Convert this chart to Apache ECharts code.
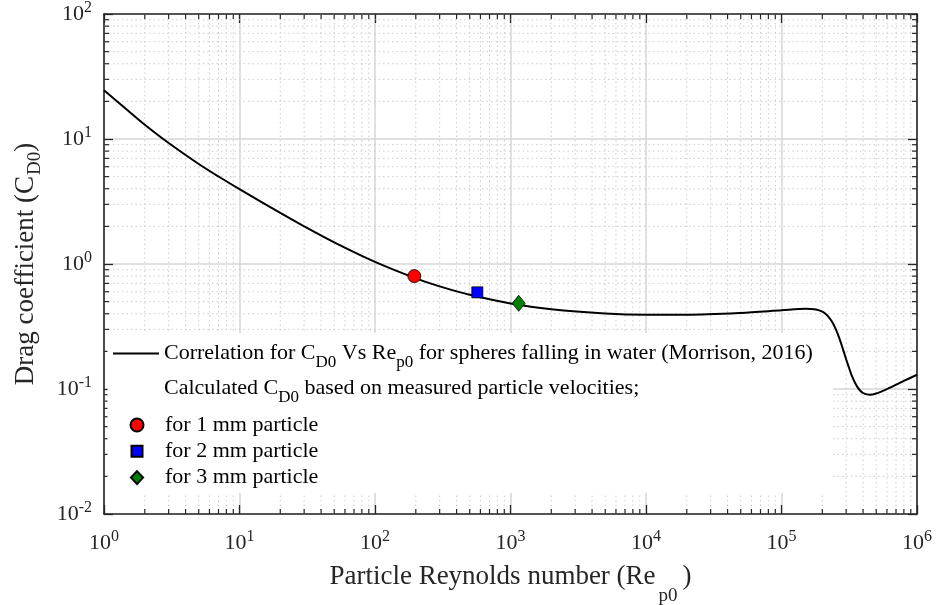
<!DOCTYPE html>
<html>
<head>
<meta charset="utf-8">
<script src="https://cdn.jsdelivr.net/npm/echarts@6/dist/echarts.min.js"></script>
<style>
html, body { margin: 0; padding: 0; background: #ffffff; }
#chart { width: 938px; height: 605px; }
</style>
</head>
<body>
<div id="chart"></div>
<script>
// ---------------- data ----------------
// Correlation curve (Morrison, 2016): particle Reynolds number vs drag coefficient
const reCurve = [1, 1.5, 2, 3, 5, 7, 10, 20, 30, 50, 100, 200, 300, 500, 1000, 2000, 5000,
  10000, 20000, 50000, 100000, 150000, 165000, 180000, 200000, 210000, 220000, 235000, 250000,
  265000, 280000, 300000, 315000, 330000, 360000, 380000, 400000, 450000, 500000, 600000, 800000, 1000000];
const cdCurve = [24.5, 16.9, 13.0, 9.28, 6.31, 5.01, 3.97, 2.56, 2.0, 1.49, 1.04, 0.768, 0.662, 0.567, 0.484, 0.435, 0.402,
  0.393, 0.393, 0.406, 0.426, 0.438, 0.437, 0.432, 0.416, 0.402, 0.383, 0.348, 0.305,
  0.261, 0.219, 0.173, 0.148, 0.128, 0.105, 0.0972, 0.0927, 0.0899, 0.092, 0.0999, 0.116, 0.13];

// Calculated C_D0 from measured particle velocities
const reP1mm = [195];  const cdP1mm = [0.80];
const reP2mm = [569];  const cdP2mm = [0.593];
const reP3mm = [1149]; const cdP3mm = [0.485];

// Tick labels (powers of ten)
const xTickExps = [0, 1, 2, 3, 4, 5, 6];
const yTickExps = [-2, -1, 0, 1, 2];

// Series / legend names
const N_CORR = 'Correlation for CD0 Vs Rep0 for spheres falling in water (Morrison, 2016)';
const N_CALC = 'Calculated CD0 based on measured particle velocities;';
const N_P1 = 'for 1 mm particle';
const N_P2 = 'for 2 mm particle';
const N_P3 = 'for 3 mm particle';

// ---------------- helpers ----------------
const FONT = "'Liberation Serif', 'Times New Roman', serif";
const TXT = '#262626';

const xMinorTicks = [];
for (let e = 0; e < 6; e++) for (let m = 2; m <= 9; m++) xMinorTicks.push(m * Math.pow(10, e));
const yMinorTicks = [];
for (let e = -2; e < 2; e++) for (let m = 2; m <= 9; m++) yMinorTicks.push(+(m * Math.pow(10, e)).toPrecision(3));

function zip(a, b) { return a.map((v, i) => [v, b[i]]); }
function powLabel(exp) { return '{b|10}{s|' + exp + '}'; }

const tickRich = {
  b: { fontFamily: FONT, fontSize: 22, lineHeight: 22, color: TXT },
  s: { fontFamily: FONT, fontSize: 16, lineHeight: 16, color: TXT, padding: [0, 0, 13, 0] }
};
const legendRich = {
  t: { fontFamily: FONT, fontSize: 22, lineHeight: 22, color: '#000' },
  sub: { fontFamily: FONT, fontSize: 17, lineHeight: 17, color: '#000', padding: [18, 0, 0, 0] }
};
const legendText = {};
legendText[N_CORR] = '{t|Correlation for C}{sub|D0}{t| Vs Re}{sub|p0}{t| for spheres falling in water (Morrison, 2016)}';
legendText[N_CALC] = '{t|Calculated C}{sub|D0}{t| based on measured particle velocities;}';
legendText[N_P1] = '{t|' + N_P1 + '}';
legendText[N_P2] = '{t|' + N_P2 + '}';
legendText[N_P3] = '{t|' + N_P3 + '}';

const MINOR_GRID = { stroke: '#cdcdcd', lineWidth: 1, lineDash: [1.5, 3] };
const TICK = { stroke: TXT, lineWidth: 1.2 };

function renderXMinor(params, api) {
  const cs = params.coordSys;
  const x = api.coord([api.value(0), 1])[0];
  const top = cs.y, bot = cs.y + cs.height;
  return { type: 'group', silent: true, children: [
    { type: 'line', shape: { x1: x, y1: top, x2: x, y2: bot }, style: MINOR_GRID },
    { type: 'line', shape: { x1: x, y1: bot, x2: x, y2: bot - 5 }, style: TICK },
    { type: 'line', shape: { x1: x, y1: top, x2: x, y2: top + 5 }, style: TICK }
  ]};
}
function renderYMinor(params, api) {
  const cs = params.coordSys;
  const y = api.coord([1, api.value(1)])[1];
  const l = cs.x, r = cs.x + cs.width;
  return { type: 'group', silent: true, children: [
    { type: 'line', shape: { x1: l, y1: y, x2: r, y2: y }, style: MINOR_GRID },
    { type: 'line', shape: { x1: l, y1: y, x2: l + 5, y2: y }, style: TICK },
    { type: 'line', shape: { x1: r, y1: y, x2: r - 5, y2: y }, style: TICK }
  ]};
}

const axisLineStyle = { color: TXT, width: 1.6 };
const majorTick = { show: true, inside: true, length: 9, lineStyle: { color: TXT, width: 1.3 } };
const majorGrid = { show: true, lineStyle: { color: '#d6d6d6', width: 1.5 } };

const chart = echarts.init(document.getElementById('chart'), null, { renderer: 'canvas' });

const option = {
  animation: false,
  backgroundColor: '#ffffff',
  grid: { left: 104, right: 21, top: 14, bottom: 91, containLabel: false, outerBoundsMode: 'none' },
  xAxis: [
    {
      type: 'log', logBase: 10, min: 1, max: 1e6, position: 'bottom', splitNumber: 6,
      axisLine: { show: true, onZero: false, lineStyle: axisLineStyle },
      axisTick: majorTick,
      axisLabel: {
        margin: 18, showMinLabel: true, showMaxLabel: true, hideOverlap: false,
        formatter: function (v) { const e = Math.round(Math.log10(v)); return xTickExps.indexOf(e) >= 0 ? powLabel(e) : ''; },
        rich: tickRich
      },
      splitLine: majorGrid,
      name: '{n|Particle Reynolds number (Re}{sub|p0}{n|)}',
      nameLocation: 'middle', nameGap: 49, nameMoveOverlap: false,
      nameTextStyle: {
        rich: {
          n: { fontFamily: FONT, fontSize: 27, lineHeight: 27, color: TXT },
          sub: { fontFamily: FONT, fontSize: 19, lineHeight: 19, color: TXT, padding: [40, 5, 0, 3] }
        }
      }
    },
    {
      type: 'log', logBase: 10, min: 1, max: 1e6, position: 'top', splitNumber: 6,
      axisLine: { show: true, onZero: false, lineStyle: axisLineStyle },
      axisTick: majorTick, axisLabel: { show: false }, splitLine: { show: false }
    }
  ],
  yAxis: [
    {
      type: 'log', logBase: 10, min: 0.01, max: 100, position: 'left', splitNumber: 4,
      axisLine: { show: true, onZero: false, lineStyle: axisLineStyle },
      axisTick: majorTick,
      axisLabel: {
        margin: 12, showMinLabel: true, showMaxLabel: true, hideOverlap: false,
        formatter: function (v) { const e = Math.round(Math.log10(v)); return yTickExps.indexOf(e) >= 0 ? powLabel(e) : ''; },
        rich: tickRich
      },
      splitLine: majorGrid,
      name: '{n|Drag coefficient (C}{sub|D0}{n|)}',
      nameLocation: 'middle', nameGap: 65, nameRotate: 90, nameMoveOverlap: false,
      nameTextStyle: {
        rich: {
          n: { fontFamily: FONT, fontSize: 27, lineHeight: 27, color: TXT },
          sub: { fontFamily: FONT, fontSize: 19, lineHeight: 19, color: TXT, padding: [20, 0, 0, 1] }
        }
      }
    },
    {
      type: 'log', logBase: 10, min: 0.01, max: 100, position: 'right', splitNumber: 4,
      axisLine: { show: true, onZero: false, lineStyle: axisLineStyle },
      axisTick: majorTick, axisLabel: { show: false }, splitLine: { show: false }
    }
  ],
  graphic: [
    { type: 'rect', left: 107.5, top: 333, shape: { width: 725.5, height: 160 }, style: { fill: '#ffffff' }, z: 50, silent: true }
  ],
  legend: [
    {
      orient: 'vertical', left: 113, top: 336, padding: 0, itemGap: 0,
      itemWidth: 46, itemHeight: 13, selectedMode: false, z: 60,
      data: [
        { name: N_CORR, icon: 'path://M0,0L46,0L46,2L0,2Z' },
        { name: N_CALC, icon: 'rect', itemStyle: { opacity: 0 } }
      ],
      formatter: function (name) { return legendText[name]; },
      textStyle: { rich: legendRich }
    },
    {
      orient: 'vertical', left: 129.5, top: 414, padding: 0, itemGap: 4.3,
      itemWidth: 46, itemHeight: 13, selectedMode: false, z: 60,
      data: [
        { name: N_P1 },
        { name: N_P2, icon: 'path://M0,0M13,13M1,1L12,1L12,12L1,12Z' },
        { name: N_P3, icon: 'path://M7,0L14,7.5L7,15L0,7.5Z' }
      ],
      formatter: function (name) { return legendText[name]; },
      textStyle: { rich: legendRich }
    }
  ],
  series: [
    {
      type: 'custom', name: 'xMinor', xAxisIndex: 0, yAxisIndex: 0, z: 1, silent: true,
      renderItem: renderXMinor, data: xMinorTicks.map(v => [v, 1]), tooltip: { show: false }
    },
    {
      type: 'custom', name: 'yMinor', xAxisIndex: 0, yAxisIndex: 0, z: 1, silent: true,
      renderItem: renderYMinor, data: yMinorTicks.map(v => [1, v]), tooltip: { show: false }
    },
    {
      type: 'line', name: N_CORR, xAxisIndex: 0, yAxisIndex: 0, z: 3,
      data: zip(reCurve, cdCurve), symbol: 'none', showSymbol: false, smooth: 0.3,
      lineStyle: { color: '#000000', width: 2 }, itemStyle: { color: '#000000' }
    },
    {
      type: 'line', name: N_CALC, xAxisIndex: 0, yAxisIndex: 0, data: [], symbol: 'none',
      lineStyle: { opacity: 0, width: 0 }, itemStyle: { opacity: 0 }
    },
    {
      type: 'scatter', name: N_P1, z: 4, data: zip(reP1mm, cdP1mm), symbol: 'circle', symbolSize: 13,
      itemStyle: { color: '#ff0000', borderColor: '#000000', borderWidth: 0.8, opacity: 1 }
    },
    {
      type: 'scatter', name: N_P2, z: 4, data: zip(reP2mm, cdP2mm), symbol: 'rect', symbolSize: 11,
      itemStyle: { color: '#0000ff', borderColor: '#000000', borderWidth: 0.8, opacity: 1 }
    },
    {
      type: 'scatter', name: N_P3, z: 4, data: zip(reP3mm, cdP3mm), symbol: 'diamond', symbolSize: [13, 16],
      itemStyle: { color: '#008000', borderColor: '#000000', borderWidth: 0.8, opacity: 1 }
    }
  ]
};
chart.setOption(option);
</script>
</body>
</html>
